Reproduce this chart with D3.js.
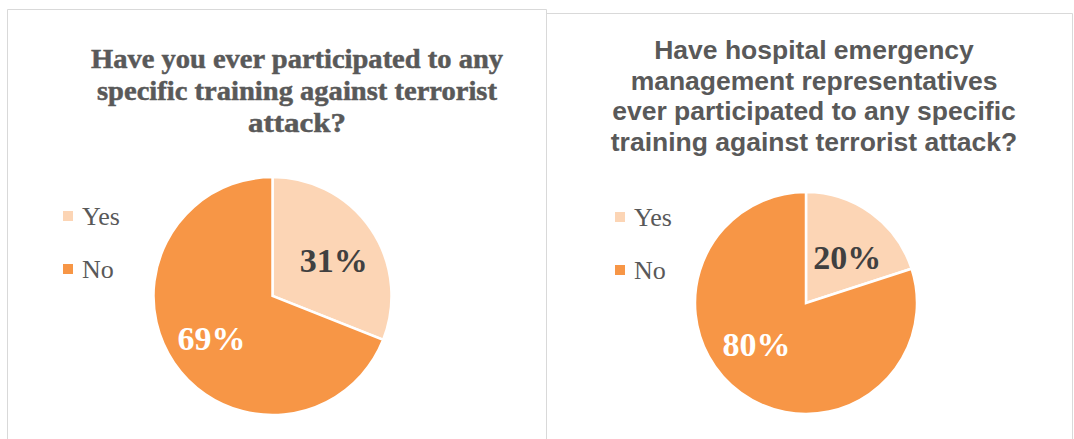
<!DOCTYPE html>
<html>
<head>
<meta charset="utf-8">
<script src="https://cdn.jsdelivr.net/npm/d3@7"></script>
<style>
  html, body { margin: 0; padding: 0; background: #fff; }
  svg { display: block; }
</style>
</head>
<body>
<svg id="chart" width="1074" height="439"></svg>
<script>
// ---- data ----
const categories = ["Yes", "No"];
const chart1Values = [31, 69];
const chart2Values = [20, 80];
const chart1Title = ["Have you ever participated to any", "specific training against terrorist", "attack?"];
const chart2Title = ["Have hospital emergency", "management representatives", "ever participated to any specific", "training against terrorist attack?"];
const sliceColors = ["#FCD5B5", "#F79646"];
const labelColors = ["#404040", "#FFFFFF"];

const svg = d3.select("#chart");
const color = d3.scaleOrdinal().domain(categories).range(sliceColors);
const labelColor = d3.scaleOrdinal().domain(categories).range(labelColors);

// panel borders
svg.append("path")
  .attr("d", "M7.5,445 V9.5 H546.5 V445")
  .attr("fill", "none").attr("stroke", "#D9D9D9").attr("stroke-width", 1);
svg.append("path")
  .attr("d", "M546.5,445 V13.5 H1072.5 V445")
  .attr("fill", "none").attr("stroke", "#D9D9D9").attr("stroke-width", 1);

function drawPanel(cfg) {
  const g = svg.append("g");
  // title
  const t = g.append("text")
    .attr("text-anchor", "middle")
    .attr("fill", "#595959")
    .attr("stroke", cfg.titleStroke ? "#595959" : "none")
    .attr("stroke-width", cfg.titleStroke || 0)
    .attr("font-family", cfg.titleFont)
    .attr("font-weight", "bold")
    .attr("font-size", cfg.titleSize);
  cfg.title.forEach((line, i) => {
    const ts = t.append("tspan")
      .attr("x", cfg.titleX)
      .attr("y", cfg.titleY + i * cfg.titleLH)
      .text(line);
    if (cfg.titleLens) {
      ts.attr("textLength", cfg.titleLens[i]).attr("lengthAdjust", "spacingAndGlyphs");
    }
  });

  const pie = d3.pie().sort(null).value(d => d.v);
  const data = pie(categories.map((c, i) => ({ c, v: cfg.values[i] })));
  const arc = d3.arc().innerRadius(0).outerRadius(cfg.r);

  const pg = g.append("g").attr("transform", `translate(${cfg.cx},${cfg.cy})`);
  pg.selectAll("path.slice").data(data).join("path")
    .attr("class", "slice")
    .attr("d", arc)
    .attr("fill", d => color(d.data.c))
    .attr("stroke", "#fff")
    .attr("stroke-width", 2.5)
    .attr("stroke-linejoin", "miter");

  pg.selectAll("text.lbl").data(data).join("text")
    .attr("class", "lbl")
    .attr("transform", (d, i) => {
      const lr = cfg.r * cfg.lr[i];
      const la = d3.arc().innerRadius(lr).outerRadius(lr)
        .startAngle(d.startAngle + cfg.la[i]).endAngle(d.endAngle + cfg.la[i]);
      return `translate(${la.centroid()})`;
    })
    .attr("text-anchor", "middle")
    .attr("dy", "0.36em")
    .attr("font-family", "'Liberation Serif', serif")
    .attr("font-weight", "bold")
    .attr("font-size", 34)
    .attr("fill", d => labelColor(d.data.c))
    .text(d => d.data.v + "%");

  // legend
  const lg = g.append("g").attr("transform", `translate(${cfg.legX},${cfg.legY})`);
  const items = lg.selectAll("g").data(categories).join("g")
    .attr("transform", (d, i) => `translate(0,${i * 53})`);
  items.append("rect")
    .attr("x", 0).attr("y", -5).attr("width", 10).attr("height", 10)
    .attr("fill", d => color(d));
  items.append("text")
    .attr("x", 19).attr("y", 0).attr("dy", "0.36em")
    .attr("font-family", "'Liberation Serif', serif")
    .attr("font-size", 26)
    .attr("fill", "#595959")
    .text(d => d);
}

drawPanel({
  title: chart1Title, titleFont: "'Liberation Serif', serif", titleSize: 28, titleStroke: 0.5,
  titleX: 297, titleY: 68, titleLH: 32, titleLens: [412, 400, 98],
  values: chart1Values, cx: 272.5, cy: 296, r: 119, lr: [0.6, 0.62], la: [0.06, 0],
  legX: 63, legY: 216
});
drawPanel({
  title: chart2Title, titleFont: "'Liberation Sans', Arial, sans-serif", titleSize: 26.5,
  titleX: 814, titleY: 59, titleLH: 30.7, titleLens: null,
  values: chart2Values, cx: 806, cy: 303, r: 111, lr: [0.56, 0.58], la: [0.1, 0.25],
  legX: 615, legY: 217
});
</script>
</body>
</html>
